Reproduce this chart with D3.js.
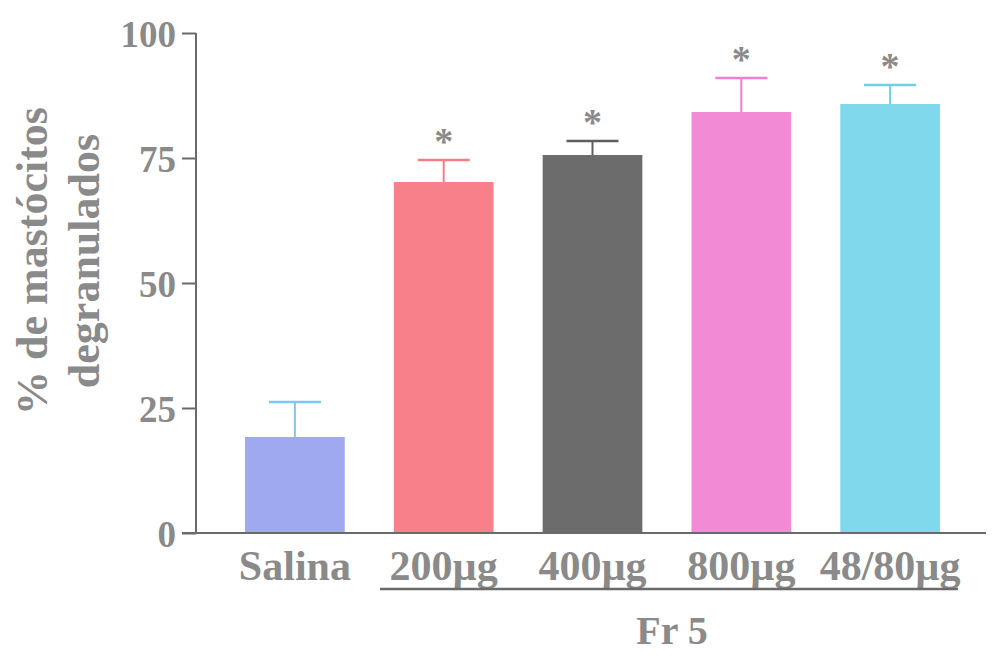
<!DOCTYPE html>
<html>
<head>
<meta charset="utf-8">
<script src="https://cdn.jsdelivr.net/npm/d3@7"></script>
<style>
  html, body { margin: 0; padding: 0; background: #fff; }
  svg { display: block; }
  text { font-family: "Liberation Serif", "Times New Roman", serif; font-weight: bold; fill: #8a8a8a; }
</style>
</head>
<body>
<svg id="chart" width="992" height="655"></svg>
<script>
// Degranulated mast cells (%) per treatment
const categories = ["Salina", "200\u00b5g", "400\u00b5g", "800\u00b5g", "48/80\u00b5g"];
const means      = [19.2, 70.2, 75.6, 84.2, 85.8];
const errors     = [7.0, 4.4, 2.8, 6.8, 3.8];
const significant = [false, true, true, true, true];
const barColors  = ["#9ea9ef", "#f8808a", "#6c6c6c", "#f28ad6", "#7fd8ec"];
const errColors  = ["#7cc8ee", "#f47d88", "#5e5e5e", "#f07fd0", "#6fcfe6"];
const yTicks     = [0, 25, 50, 75, 100];
const groupLabel = "Fr 5";
const yTitle     = ["% de mastócitos", "degranulados"];

const svg = d3.select("#chart");

const y = d3.scaleLinear().domain([0, 100]).range([533, 33]);
const x = d3.scaleBand().domain(categories)
  .range([220.5, 964.5]).paddingInner(0.33).paddingOuter(0.165);

const axisColor = "#6a6a6a";

// bars
svg.append("g").selectAll("rect").data(categories).join("rect")
  .attr("x", d => x(d))
  .attr("y", (d, i) => y(means[i]))
  .attr("width", x.bandwidth())
  .attr("height", (d, i) => y(0) - y(means[i]))
  .attr("fill", (d, i) => barColors[i]);

// upper error bars
const eb = svg.append("g").selectAll("g").data(categories).join("g");
eb.append("line")
  .attr("x1", d => x(d) + x.bandwidth() / 2)
  .attr("x2", d => x(d) + x.bandwidth() / 2)
  .attr("y1", (d, i) => y(means[i]))
  .attr("y2", (d, i) => y(means[i] + errors[i]))
  .attr("stroke", (d, i) => errColors[i]).attr("stroke-width", 2);
eb.append("line")
  .attr("x1", d => x(d) + x.bandwidth() / 2 - 26)
  .attr("x2", d => x(d) + x.bandwidth() / 2 + 26)
  .attr("y1", (d, i) => y(means[i] + errors[i]))
  .attr("y2", (d, i) => y(means[i] + errors[i]))
  .attr("stroke", (d, i) => errColors[i]).attr("stroke-width", 2.5);

// significance marks
svg.append("g").selectAll("text").data(categories.filter((d, i) => significant[i])).join("text")
  .attr("x", d => x(d) + x.bandwidth() / 2)
  .attr("y", d => { const i = categories.indexOf(d); return y(means[i] + errors[i]) - 6; })
  .attr("text-anchor", "middle")
  .attr("font-size", 38)
  .text("*");

// y axis
const yAxis = d3.axisLeft(y).tickValues(yTicks).tickSize(14).tickPadding(6);
const gy = svg.append("g").attr("transform", "translate(196,0)").call(yAxis);
gy.select(".domain").attr("stroke", axisColor).attr("stroke-width", 2)
  .attr("d", `M0,${y(100)}V${y(0)}`);
gy.selectAll(".tick line").attr("stroke", axisColor).attr("stroke-width", 2);
gy.selectAll(".tick text").attr("font-size", 37).attr("dy", "0.36em")
  .style("font-family", "Liberation Serif, serif").style("font-weight", "bold").attr("fill", "#8a8a8a");

// x axis line
svg.append("line").attr("x1", 182).attr("x2", 986).attr("y1", y(0)).attr("y2", y(0))
  .attr("stroke", axisColor).attr("stroke-width", 2);

// category labels
svg.append("g").selectAll("text").data(categories).join("text")
  .attr("x", d => x(d) + x.bandwidth() / 2)
  .attr("y", 580)
  .attr("text-anchor", "middle")
  .attr("font-size", 42)
  .text(d => d);

// group underline and label
svg.append("line").attr("x1", 380).attr("x2", 958).attr("y1", 589).attr("y2", 589)
  .attr("stroke", axisColor).attr("stroke-width", 2.5);
svg.append("text").attr("x", 672).attr("y", 644).attr("text-anchor", "middle")
  .attr("font-size", 40).text(groupLabel);

// y title
const yt = svg.append("text").attr("transform", "translate(0,261) rotate(-90)")
  .attr("text-anchor", "middle").attr("font-size", 44);
yt.append("tspan").attr("x", 0).attr("y", 47).text(yTitle[0]);
yt.append("tspan").attr("x", 0).attr("y", 99).text(yTitle[1]);
</script>
</body>
</html>
